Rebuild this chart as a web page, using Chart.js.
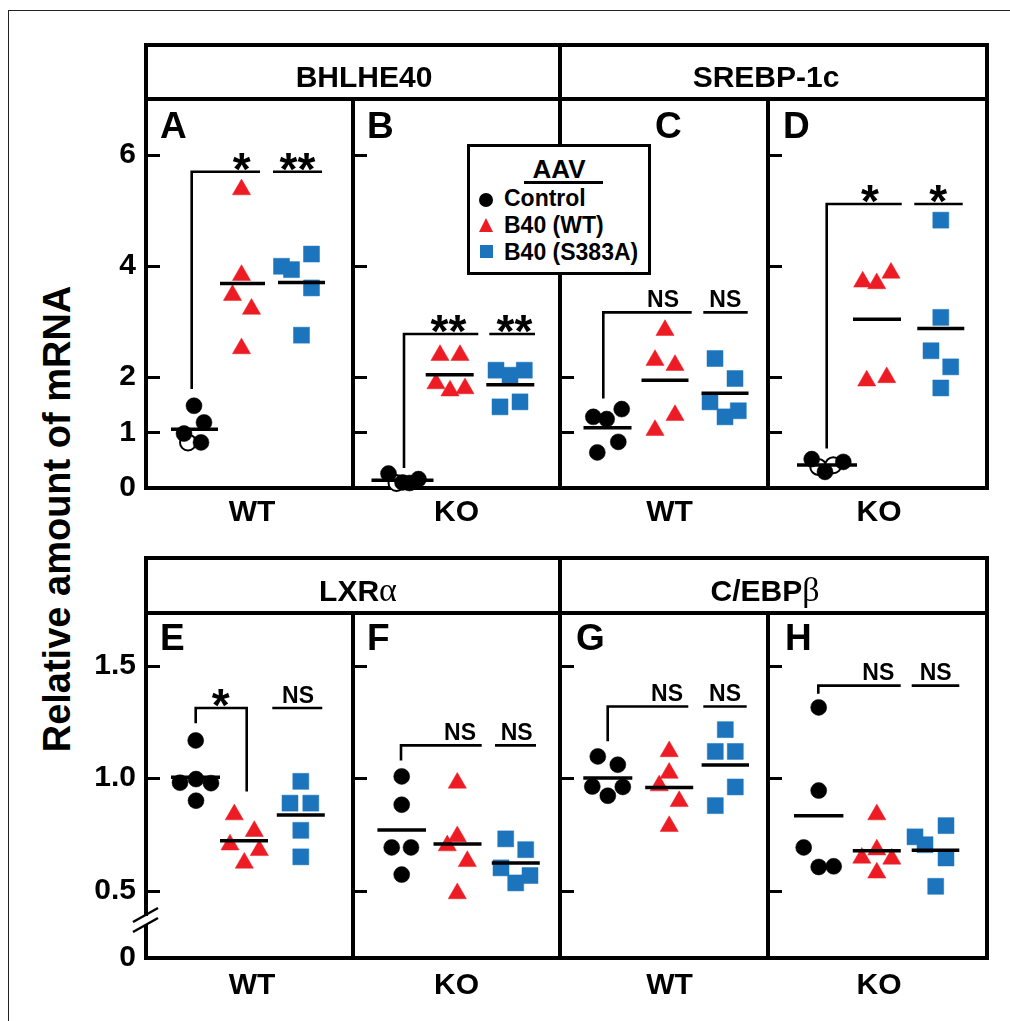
<!DOCTYPE html>
<html><head><meta charset="utf-8">
<script src="https://cdn.jsdelivr.net/npm/chart.js@4.4.1/dist/chart.umd.min.js"></script>
<style>
html,body{margin:0;padding:0;background:#fff;}
body{width:1010px;height:1021px;overflow:hidden;position:relative;font-family:'Liberation Sans',Arial,sans-serif;color:#000;}
#frame{position:absolute;left:8px;top:10px;width:1200px;height:1200px;border:1px solid #222;}
.band{position:absolute;border:4px solid #000;box-sizing:border-box;}
.vdiv{position:absolute;width:4px;background:#000;}
.gene{position:absolute;width:300px;text-align:center;font-weight:bold;font-size:30px;line-height:30px;white-space:nowrap;z-index:5;}
.greek{font-family:'Liberation Serif','DejaVu Serif',serif;font-weight:normal;font-size:34px;}
canvas{position:absolute;}
#ytitle{position:absolute;width:600px;height:40px;line-height:40px;font-size:38px;font-weight:bold;text-align:center;transform:rotate(-90deg);white-space:nowrap;}
#legend{position:absolute;left:467px;top:144px;width:184px;height:131px;border:3px solid #000;box-sizing:border-box;background:#fff;z-index:10;}
#legend .ttl{position:absolute;left:0;width:178px;text-align:center;top:9px;font-size:26px;line-height:26px;font-weight:bold;}
#legend .ul{position:absolute;left:54px;width:79px;top:34px;height:3px;background:#000;}
#legend .it{position:absolute;left:34px;font-size:23px;line-height:23px;font-weight:bold;white-space:nowrap;}
#legend .mk{position:absolute;}
</style>
</head><body>
<div id="frame"></div>
<div id="ytitle"></div>
<div id="legend"></div>
<script>
// ---------- text / categories ----------
const groups = ['Control', 'B40 (WT)', 'B40 (S383A)'];
const legendTitle = 'AAV';
const genes = ['BHLHE40', 'SREBP-1c', 'LXRα', 'C/EBPβ'];
const panelLetters = ['A', 'B', 'C', 'D', 'E', 'F', 'G', 'H'];
const genotypes = ['WT', 'KO', 'WT', 'KO', 'WT', 'KO', 'WT', 'KO'];
const yTitle = 'Relative amount of mRNA';
const topTicks = [0, 1, 2, 4, 6];
const topTickLabels = ['0', '1', '2', '4', '6'];
const bottomTicks = [0.2, 0.5, 1.0, 1.5];
const bottomTickLabels = ['0', '0.5', '1.0', '1.5'];
const sigLabels = [['*', '**'], ['**', '**'], ['NS', 'NS'], ['*', '*'], ['*', 'NS'], ['NS', 'NS'], ['NS', 'NS'], ['NS', 'NS']];

// ---------- values (relative mRNA) ----------
// BHLHE40 WT (A)
const A_control = [0.82, 1.48, 1.18, 0.98, 0.82];
const A_controlOpen = [1, 0, 0, 0, 0];
const A_wt = [5.37, 3.83, 3.47, 3.22, 2.51];
const A_s383a = [3.99, 3.93, 4.21, 3.60, 2.75];
// BHLHE40 KO (B)
const B_control = [0.09, 0.26, 0.10, 0.09, 0.16];
const B_controlOpen = [1, 0, 0, 0, 0];
const B_wt = [2.39, 2.39, 1.88, 1.75, 1.79];
const B_s383a = [2.12, 2.03, 2.12, 1.46, 1.55];
// SREBP-1c WT (C)
const C_control = [1.28, 1.24, 1.42, 0.83, 0.64];
const C_controlOpen = [0, 0, 0, 0, 0];
const C_wt = [2.84, 2.30, 2.21, 1.31, 1.04];
const C_s383a = [2.33, 1.97, 1.55, 1.28, 1.39];
// SREBP-1c KO (D)
const D_control = [0.38, 0.41, 0.52, 0.29, 0.47];
const D_controlOpen = [1, 1, 0, 0, 0];
const D_wt = [3.71, 3.68, 3.87, 1.93, 1.99];
const D_s383a = [4.82, 3.07, 2.47, 2.18, 1.80];
// LXRa WT (E)
const E_control = [1.168, 0.98, 0.996, 0.978, 0.90];
const E_controlOpen = [0, 0, 0, 0, 0];
const E_wt = [0.838, 0.764, 0.704, 0.679, 0.623];
const E_s383a = [0.986, 0.889, 0.889, 0.768, 0.650];
// LXRa KO (F)
const F_control = [1.008, 0.882, 0.692, 0.692, 0.571];
const F_controlOpen = [0, 0, 0, 0, 0];
const F_wt = [0.979, 0.741, 0.700, 0.630, 0.487];
const F_s383a = [0.730, 0.682, 0.601, 0.567, 0.534];
// C/EBPb WT (G)
const G_control = [1.097, 1.060, 0.963, 0.922, 0.961];
const G_controlOpen = [0, 0, 0, 0, 0];
const G_wt = [1.119, 1.023, 0.967, 0.897, 0.786];
const G_s383a = [1.216, 1.119, 1.119, 0.961, 0.878];
// C/EBPb KO (H)
const H_control = [1.315, 0.945, 0.692, 0.605, 0.608];
const H_controlOpen = [0, 0, 0, 0, 0];
const H_wt = [0.838, 0.682, 0.645, 0.641, 0.579];
const H_s383a = [0.789, 0.739, 0.704, 0.645, 0.519];

// ---------- layout (positions only) ----------
const panelLeft = [146, 353, 560, 768];
const panelRight = [353, 560, 768, 987];
const rowTop = [99, 613];
const rowBottom = [488, 958];
const rowRange = [[0, 7], [0.2, 1.735]];
const groupCenters = [[48.5, 96.5, 155.5], [49.5, 96.7, 157.3], [47.5, 105, 165], [59, 109, 172.8],
                      [49.5, 98, 154.8], [48.7, 104.5, 162.8], [47.8, 109.2, 165.3], [50.7, 108.8, 167.5]];
const meanHalf = [[23.5, 22.5, 23.5], [31, 24, 24], [24, 23.5, 23.5], [30, 24, 23.5],
                  [24.5, 24, 24], [24.3, 24, 24], [24.5, 24, 23.7], [24.7, 24, 23.8]];
const jitter = [
  [[-6.5, -0.5, 9.5, -10.5, 6.5], [-1, -1, -10, 9, -1], [-20, -10, 10, 10, 0]],
  [[-6, -14, 0, 7, 16], [-9.7, 10.3, -13.7, 0.3, 15.3], [-14.3, -0.3, 14, -10.3, 9.7]],
  [[-14.2, -0.8, 14.2, 10.8, -10.2], [0, -10, 10, 10, -10], [-10, 10, -15, 0, 13.3]],
  [[-8.7, 6.3, -15.3, -2, 16.3], [-14.3, -0.3, 14, -10.3, 9.7], [0, 0, -9.8, 9.9, 0]],
  [[0.2, -15.5, 0.5, 15.5, 0.5], [-9.7, 10.3, -14, 15.3, 0.3], [0, -10.8, 10, 0, 0]],
  [[0, 0, -10, 9.3, 0], [-0.2, -0.2, -10.2, 9.8, -0.2], [-10.1, 9.9, -14.8, 14.2, -0.1]],
  [[-10, 10, -15.5, 0, 15], [0, 0, -10, 10, 0], [0, -10, 10, 10, -10]],
  [[0, 0, -15, 0, 15], [0, 0, -15, 15, 0], [10.5, -20.5, -10.5, 10.5, 0.2]]
];
// significance bracket geometry (x in panel offset units, y in data units)
const sigGeom = [
  {cx: 45.7, lo: 1.78, yb: 5.69, ex: 114, drop: null, s0: 127, s1: 176, l1: 95.7, l2: 151.5},
  {cx: 51, lo: 0.36, yb: 2.77, ex: 125.3, drop: null, s0: 136.3, s1: 182, l1: 95.5, l2: 161.5},
  {cx: 43.3, lo: 1.61, yb: 3.16, ex: 131.7, drop: null, s0: 143.3, s1: 187.7, l1: 103, l2: 165.3},
  {cx: 58.7, lo: 0.71, yb: 5.11, ex: 133.7, drop: null, s0: 146.3, s1: 194.7, l1: 102, l2: 170.3},
  {cx: 49.7, lo: 1.245, yb: 1.312, ex: 100.7, drop: 0.941, s0: 126.3, s1: 176.3, l1: 74.7, l2: 152},
  {cx: 48, lo: 1.079, yb: 1.146, ex: 128.7, drop: null, s0: 142, s1: 183, l1: 107, l2: 163.7},
  {cx: 47.7, lo: 1.164, yb: 1.319, ex: 128.3, drop: null, s0: 143.3, s1: 186.7, l1: 107, l2: 165},
  {cx: 50.3, lo: 1.376, yb: 1.412, ex: 132.7, drop: null, s0: 143.7, s1: 191.3, l1: 110.3, l2: 167.7}
];
const letterPos = [[14, 39], [14, 39], [95, 39], [15, 39], [14, 37], [14, 37], [16, 37], [17, 37]];
const genoDx = [2.5, 0, 5.5, 1.5];
const genoDy = [33, 36];

const panelValues = [
  [A_control, A_wt, A_s383a], [B_control, B_wt, B_s383a], [C_control, C_wt, C_s383a], [D_control, D_wt, D_s383a],
  [E_control, E_wt, E_s383a], [F_control, F_wt, F_s383a], [G_control, G_wt, G_s383a], [H_control, H_wt, H_s383a]
];
const panelOpen = [A_controlOpen, B_controlOpen, C_controlOpen, D_controlOpen, E_controlOpen, F_controlOpen, G_controlOpen, H_controlOpen];

// ---------- styles ----------
const FONT = "'Liberation Sans', Arial, sans-serif";
Chart.defaults.font.family = FONT;
Chart.defaults.color = '#000';
const shapes = ['circle', 'triangle', 'rect'];
const colors = ['#000000', '#ed1c24', '#1c75bc'];
const radii = [8, 10.5, 11.3];
const PAD = 48, AXIS_W = 100;

// ---------- static HTML pieces ----------
function addDiv(cls, css, html) {
  const d = document.createElement('div');
  d.className = cls; Object.assign(d.style, css);
  if (html !== undefined) d.innerHTML = html;
  document.body.appendChild(d); return d;
}
addDiv('band', {left: '144px', top: '43px', width: '845px', height: '58px'});
addDiv('vdiv', {left: '558px', top: '43px', height: '58px'});
addDiv('band', {left: '144px', top: '556px', width: '845px', height: '59px'});
addDiv('vdiv', {left: '558px', top: '556px', height: '59px'});
const geneCenters = [[364, 87], [766, 87], [358, 600], [765, 600]];
const greekWrap = s => s.replace(/([α-ω])/g, '<span class="greek">$1</span>');
genes.forEach((g, i) => {
  addDiv('gene', {left: (geneCenters[i][0] - 150) + 'px', top: (geneCenters[i][1] - 25.4) + 'px'}, greekWrap(g));
});
const yt = document.getElementById('ytitle');
yt.textContent = yTitle;
Object.assign(yt.style, {left: (57 - 300) + 'px', top: (519 - 20) + 'px'});

// legend
const lg = document.getElementById('legend');
lg.innerHTML = `<div class="ttl">${legendTitle}</div><div class="ul"></div>`;
const itemTops = [40, 67, 94];
const mkCss = [
  {left: '9px', top: '46px', width: '14px', height: '14px', borderRadius: '50%', background: colors[0]},
  {left: '8.5px', top: '71px', width: '0', height: '0', borderLeft: '7.5px solid transparent', borderRight: '7.5px solid transparent', borderBottom: '14px solid ' + colors[1]},
  {left: '9.5px', top: '98px', width: '13px', height: '13px', background: colors[2]}
];
groups.forEach((g, i) => {
  const m = document.createElement('div'); m.className = 'mk'; Object.assign(m.style, mkCss[i]); lg.appendChild(m);
  const t = document.createElement('div'); t.className = 'it'; t.style.top = itemTops[i] + 'px'; t.textContent = g; lg.appendChild(t);
});

// ---------- plugin ----------
const decor = {
  id: 'decor',
  beforeDatasetsDraw(chart, args, o) {
    const {ctx, chartArea: ca, scales: {y}} = chart;
    ctx.save();
    ctx.strokeStyle = '#000'; ctx.lineWidth = 4;
    ctx.strokeRect(ca.left, ca.top, ca.right - ca.left, ca.bottom - ca.top);
    ctx.lineWidth = 3;
    o.ticks.slice(1).forEach(v => {
      const py = Math.round(y.getPixelForValue(v)) + 0.5;
      ctx.beginPath(); ctx.moveTo(ca.left, py); ctx.lineTo(ca.left + 14, py); ctx.stroke();
    });
    if (o.brk) {
      const L = ca.left, B = ca.bottom;
      ctx.fillStyle = '#fff'; ctx.fillRect(L - 3, B - 42, 6, 9);
      ctx.lineWidth = 2.5; ctx.beginPath();
      ctx.moveTo(L - 13, B - 36); ctx.lineTo(L + 12, B - 50);
      ctx.moveTo(L - 13, B - 26); ctx.lineTo(L + 12, B - 40); ctx.stroke();
    }
    ctx.fillStyle = '#000'; ctx.textBaseline = 'alphabetic';
    ctx.font = `bold 37px ${FONT}`; ctx.textAlign = 'left';
    ctx.fillText(o.letter, ca.left + o.letterPos[0], ca.top + o.letterPos[1]);
    ctx.font = `bold 30px ${FONT}`; ctx.textAlign = 'center';
    ctx.fillText(o.genotype, (ca.left + ca.right) / 2 + o.genoDx, ca.bottom + o.genoDy);
    ctx.restore();
  },
  afterDatasetsDraw(chart, args, o) {
    const {ctx, scales: {x, y}} = chart;
    const s = o.sig;
    const py = y.getPixelForValue(s.yb);
    ctx.save(); ctx.fillStyle = '#000'; ctx.textAlign = 'center'; ctx.textBaseline = 'alphabetic';
    o.labels.forEach((lab, i) => {
      const lx = x.getPixelForValue(i === 0 ? s.l1 : s.l2);
      if (lab[0] === '*') { ctx.font = `bold 46px ${FONT}`; ctx.fillText(lab, lx, py + 13); }
      else { ctx.font = `bold 23px ${FONT}`; ctx.fillText(lab, lx, py - 5.5); }
    });
    ctx.restore();
  }
};

const mean = a => a.reduce((t, v) => t + v, 0) / a.length;

// ---------- build charts ----------
for (let p = 0; p < 8; p++) {
  const row = p < 4 ? 0 : 1, col = p % 4;
  const w = panelRight[col] - panelLeft[col], h = rowBottom[row] - rowTop[row];
  const ticks = row === 0 ? topTicks : bottomTicks;
  const tickLabels = row === 0 ? topTickLabels : bottomTickLabels;
  const cv = document.createElement('canvas');
  const cl = col === 0 ? panelLeft[col] - AXIS_W : panelLeft[col] - PAD;
  const cw = col === 0 ? AXIS_W + w + PAD : w + 2 * PAD;
  const ch = h + 2 * PAD;
  cv.width = cw; cv.height = ch;
  Object.assign(cv.style, {left: cl + 'px', top: (rowTop[row] - PAD) + 'px', width: cw + 'px', height: ch + 'px'});
  document.body.appendChild(cv);

  const datasets = [];
  const g = sigGeom[p];
  // means
  panelValues[p].forEach((vals, k) => {
    const c = groupCenters[p][k], hw = meanHalf[p][k], m = mean(vals);
    datasets.push({label: groups[k] + ' mean', data: [{x: c - hw, y: m}, {x: c + hw, y: m}], showLine: true,
      borderColor: '#000', borderWidth: 3.5, pointRadius: 0, borderCapStyle: 'butt', clip: false, order: 0});
  });
  // brackets
  const br = [{x: g.cx, y: g.lo}, {x: g.cx, y: g.yb}, {x: g.ex, y: g.yb}];
  if (g.drop !== null) br.push({x: g.ex, y: g.drop});
  datasets.push({label: 'bracket', data: br, showLine: true, borderColor: '#000', borderWidth: 2.6,
    pointRadius: 0, borderJoinStyle: 'miter', borderCapStyle: 'butt', clip: false, order: 0});
  datasets.push({label: 'bracket2', data: [{x: g.s0, y: g.yb}, {x: g.s1, y: g.yb}], showLine: true,
    borderColor: '#000', borderWidth: 2.6, pointRadius: 0, borderCapStyle: 'butt', clip: false, order: 0});
  // points
  panelValues[p].forEach((vals, k) => {
    const c = groupCenters[p][k];
    const open = k === 0 ? panelOpen[p] : vals.map(() => 0);
    datasets.push({
      label: groups[k],
      data: vals.map((v, i) => ({x: c + jitter[p][k][i], y: v})),
      pointStyle: shapes[k], pointRadius: radii[k],
      pointBackgroundColor: open.map(o => o ? '#fff' : colors[k]),
      pointBorderColor: open.map(o => o ? '#000' : colors[k]),
      pointBorderWidth: open.map(o => o ? 2 : 0.5),
      showLine: false, clip: false, order: 3 - k
    });
  });

  const yScale = {
    type: 'linear', min: rowRange[row][0], max: rowRange[row][1], display: col === 0, position: 'left',
    grid: {display: false, drawTicks: false}, border: {display: false},
    afterBuildTicks: sc => { sc.ticks = ticks.map(v => ({value: v})); },
    ticks: {font: {size: 30, weight: 'bold'}, color: '#000', padding: 10, autoSkip: false,
      callback: (v, i) => tickLabels[i]}
  };
  if (col === 0) yScale.afterFit = sc => { sc.width = AXIS_W; };

  new Chart(cv, {
    type: 'scatter',
    data: {datasets},
    plugins: [decor],
    options: {
      responsive: false, animation: false, events: [],
      layout: {padding: {left: col === 0 ? 0 : PAD, right: PAD, top: PAD, bottom: PAD}},
      plugins: {
        legend: {display: false}, tooltip: {enabled: false},
        decor: {ticks, letter: panelLetters[p], letterPos: letterPos[p], genotype: genotypes[p],
          genoDx: genoDx[col], genoDy: genoDy[row], sig: g, labels: sigLabels[p], brk: p === 4}
      },
      scales: {
        x: {type: 'linear', min: 0, max: w, display: false},
        y: yScale
      }
    }
  });
}
</script>
</body></html>
